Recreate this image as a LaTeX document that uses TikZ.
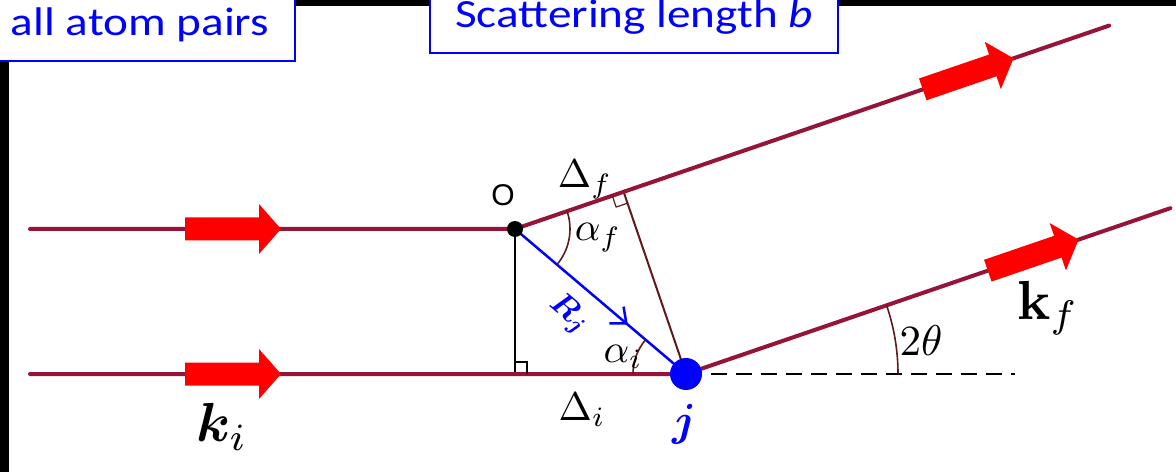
\documentclass[tikz,border=0pt]{standalone}
\usepackage[no-math]{fontspec}
\setmainfont{Carlito}
\newfontfamily\labelsans{Liberation Sans}
\usepackage{amsmath}
\usepackage{bm}
\usepackage{tikz}
\usetikzlibrary{calc}
\usetikzlibrary{arrows.meta}
\usetikzlibrary{decorations.markings}

\definecolor{beam}{RGB}{150,20,55}
\definecolor{perp}{RGB}{95,25,25}

\newcommand{\wide}[1]{\scalebox{1.18}[1]{#1}}

\tikzset{
  beamline/.style={draw=beam, line width=4, line cap=round},
  perpline/.style={draw=perp, line width=2},
  anglearc/.style={draw=perp, line width=1.6},
  rightmark/.style={line width=1.2},
  beamarrow/.pic={\fill[red] (0,-11.5) -- (74,-11.5) -- (74,-25) -- (96,0) -- (74,25) -- (74,11.5) -- (0,11.5) -- cycle;},
  labelbox/.style={draw=blue, line width=2.5, fill=white, text=blue, inner sep=0, anchor=base,
    font=\fontsize{40}{44}\selectfont},
}

\begin{document}
\begin{tikzpicture}[x=1pt, y=1pt, thick]
    \useasboundingbox (0,0) rectangle (1176,472);
    \fill (0,0) rectangle (9,472);
    \fill (0,466) rectangle (1176,472);

    \coordinate (O) at (515,243);
    \coordinate (J) at (686,98);
    \coordinate (Ain) at (30,243);
    \coordinate (Bin) at (30,98);
    \coordinate (Aout) at ($(O)+(18.9:628)$);
    \coordinate (Bout) at ($(J)+(18.9:512)$);
    \coordinate (D) at (1015,98);
    \coordinate (V) at (O |- J);
    \coordinate (F) at ($(O)!(J)!(Aout)$);
    \coordinate (Fa) at ($(F)!12pt!(O)$);
    \coordinate (Fb) at ($(F)!12pt!(J)$);

    \draw[dash pattern=on 16pt off 9pt, line width=2] (J) -- (D);
    \draw[line width=2] (O) -- (V);
    \draw[perpline] (J) -- (F);
    \draw[beamline] (Ain) -- (O) -- (Aout);
    \draw[beamline] (Bin) -- (J) -- (Bout);
    \draw[blue, line width=2.5, postaction={decorate},
      decoration={markings, mark=at position 0.66 with {\arrow{Straight Barb[length=13pt, width=22pt]}}}] (O) -- (J);

    \draw[rightmark] ($(V)+(0,12)$) -- ($(V)+(12,12)$) -- ($(V)+(12,0)$);
    \draw[rightmark, perp] (Fa) -- ($(Fa)+(Fb)-(F)$) -- (Fb);

    \draw[anglearc] ($(O)+(18.9:55)$) arc[start angle=18.9, end angle=-40.3, radius=55];
    \draw[anglearc] ($(J)+(180:53)$) arc[start angle=180, end angle=139.7, radius=53];
    \draw[anglearc] ($(J)+(0:212)$) arc[start angle=0, end angle=18.9, radius=212];

    \pic at (185,243) {beamarrow};
    \pic at (185,98) {beamarrow};
    \pic[rotate=18.9] at ($(O)!431pt!(Aout)$) {beamarrow};
    \pic[rotate=18.9] at ($(J)!319pt!(Bout)$) {beamarrow};

    \node[circle, fill=black, inner sep=0, minimum size=16] (Odot) at (O) {};
    \node[circle, fill=blue, inner sep=0, minimum size=32] (Jdot) at (J) {};

    \node[font=\labelsans, scale=3] (Olab) at (503,277) {O};
    \node[scale=4] (dflab) at (585,292) {$\Delta_f$};
    \node[scale=4] (aflab) at (598,234) {$\alpha_f$};
    \node[scale=4] (ailab) at (623,115) {$\alpha_i$};
    \node[scale=4] (dilab) at (582,62) {$\Delta_i$};
    \node[scale=4.3] (ttlab) at (921,131) {$2\theta$};
    \node[blue, scale=4.5] (jlab) at (684,48) {$\bm{j}$};
    \node[blue, rotate=-40.3, scale=3.2, inner sep=0] (rlab) at (569,158) {$\bm{R_j}$};
    \node[scale=5.5] (kilab) at (222,45) {$\bm{k}_i$};
    \node[scale=5.5] (kflab) at (1048,164) {$\mathbf{k}_f$};

    \node[labelbox, minimum width=310, text height=60, text depth=25] (pairsbox) at (140,436) {\wide{all atom pairs}};
    \node[labelbox, minimum width=408, text height=40, text depth=25] (lenbox) at (634,444) {\wide{Scattering length \textit{b}}};
\end{tikzpicture}
\end{document}
